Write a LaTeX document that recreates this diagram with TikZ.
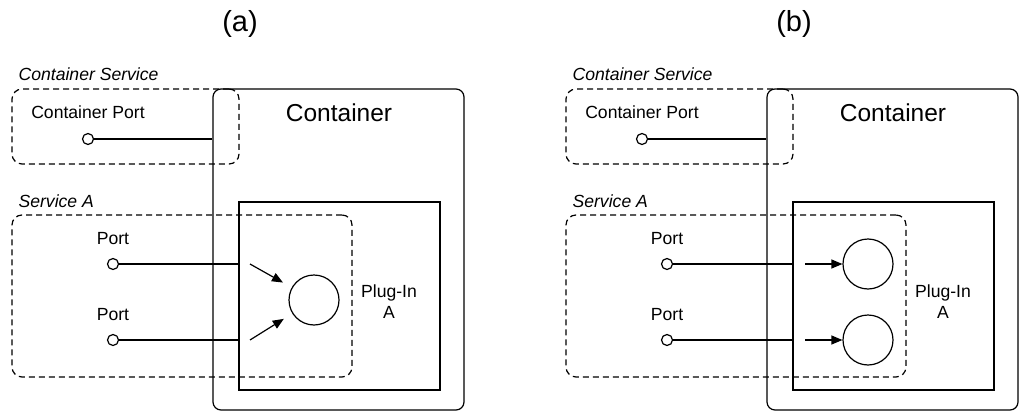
\documentclass[tikz,border=0pt]{standalone}
\usepackage{fontspec}
\setmainfont{Liberation Sans}
\usetikzlibrary{positioning,arrows.meta}
\tikzset{
>={Triangle[length=11pt,width=9pt]}, % filled arrow heads
every path/.style={line width=1.2pt},
box/.style={draw, inner sep=0pt}, % plain boxes
host/.style={box, rounded corners=8pt}, % the container
svc/.style={box, rounded corners=10pt, dash pattern=on 6pt off 4pt}, % service borders
pin/.style={circle, draw, fill=white, minimum size=11pt, inner sep=0pt}, % small port ends
core/.style={circle, draw, minimum size=50pt, inner sep=0pt}, % plug-in parts
txt/.style={inner sep=0pt, font=\fontsize{17.6}{21}\selectfont},
big/.style={inner sep=0pt, font=\fontsize{24.5}{28}\selectfont},
title/.style={inner sep=0pt, font=\fontsize{29}{32}\selectfont},
tag/.style={txt, anchor=base west, font=\fontsize{17.6}{21}\selectfont\itshape},
flow/.style={->},
}

\begin{document}
\begin{tikzpicture}[x=1pt, y=-1pt]
\useasboundingbox (0,0) rectangle (1019,412);

% (a) two ports into one part
\begin{scope}
\node[title] (a-title) at (240,24) {(a)};
\node[host, minimum width=251pt, minimum height=321pt] (a-cont) at (338.5,249.5) {};
\node[big] (a-contlbl) at (339,113) {Container};
\node[svc, minimum width=227pt, minimum height=75pt] (a-cs) at (125.5,126.5) {};
\node[tag] (a-cslbl) at (18,81) {Container Service};
\node[pin] (a-cp) at (88,139) {};
\node[txt, above=14pt of a-cp] (a-cplbl) {Container Port};
\draw (a-cp) -- (a-cp -| a-cont.west);

\node[box, minimum width=201pt, minimum height=188pt] (a-plug) at (339.5,296) {};
\node[txt, align=center] (a-pluglbl) at (389,302) {Plug-In\\A};
\node[svc, minimum width=340pt, minimum height=162pt] (a-sa) at (182,296) {};
\node[tag] (a-salbl) at (18,207) {Service A};

\node[pin] (a-p1) at (113,264) {};
\node[txt, above=13pt of a-p1] (a-p1lbl) {Port};
\node[pin] (a-p2) at (113,340) {};
\node[txt, above=13pt of a-p2] (a-p2lbl) {Port};
\draw (a-p1) -- (a-p1 -| a-plug.west);
\draw (a-p2) -- (a-p2 -| a-plug.west);

\node[core] (a-core) at (314,300) {};
\coordinate (a-in1) at (250,264);
\coordinate (a-in2) at (250,340);
\draw[flow, shorten >=10pt] (a-in1) -- (a-core);
\draw[flow, shorten >=10pt] (a-in2) -- (a-core);
\end{scope}

% (b) each port into its own part
\begin{scope}[xshift=554pt]
\node[title] (b-title) at (240,24) {(b)};
\node[host, minimum width=251pt, minimum height=321pt] (b-cont) at (338.5,249.5) {};
\node[big] (b-contlbl) at (339,113) {Container};
\node[svc, minimum width=227pt, minimum height=75pt] (b-cs) at (125.5,126.5) {};
\node[tag] (b-cslbl) at (18,81) {Container Service};
\node[pin] (b-cp) at (88,139) {};
\node[txt, above=14pt of b-cp] (b-cplbl) {Container Port};
\draw (b-cp) -- (b-cp -| b-cont.west);

\node[box, minimum width=201pt, minimum height=188pt] (b-plug) at (339.5,296) {};
\node[txt, align=center] (b-pluglbl) at (389,302) {Plug-In\\A};
\node[svc, minimum width=340pt, minimum height=162pt] (b-sa) at (182,296) {};
\node[tag] (b-salbl) at (18,207) {Service A};

\node[pin] (b-p1) at (113,264) {};
\node[txt, above=13pt of b-p1] (b-p1lbl) {Port};
\node[pin] (b-p2) at (113,340) {};
\node[txt, above=13pt of b-p2] (b-p2lbl) {Port};
\draw (b-p1) -- (b-p1 -| b-plug.west);
\draw (b-p2) -- (b-p2 -| b-plug.west);

\node[core] (b-core1) at (314,264) {};
\node[core] (b-core2) at (314,340) {};
\coordinate (b-in1) at (251,264);
\coordinate (b-in2) at (251,340);
\draw[flow] (b-in1) -- (b-core1);
\draw[flow] (b-in2) -- (b-core2);
\end{scope}
\end{tikzpicture}
\end{document}
